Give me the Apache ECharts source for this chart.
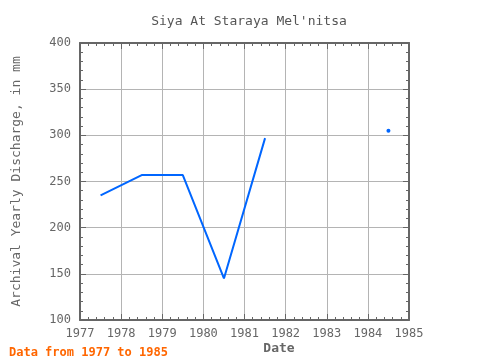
<!DOCTYPE html>
<html><head><meta charset="utf-8">
<script src="https://cdn.jsdelivr.net/npm/echarts@6/dist/echarts.min.js"></script>
<style>html,body{margin:0;padding:0;background:#fff}#c{width:480px;height:360px}</style>
</head><body><div id="c"></div>
<script>
const years = [1977.5, 1978.5, 1979.5, 1980.5, 1981.5, 1982.5, 1983.5, 1984.5];
const discharge = [235, 257, 257, 145, 297, null, null, 305];
const xTicks = [1977, 1978, 1979, 1980, 1981, 1982, 1983, 1984, 1985];
const yTicks = [100, 150, 200, 250, 300, 350, 400];
const titleText = "Siya At Staraya Mel'nitsa";
const yName = "Archival Yearly Discharge, in mm";
const xName = "Date";
const footer = "Data from 1977 to 1985";

const font = "'DejaVu Sans Mono', monospace";
const axisGray = '#666666';
const data = years.map((y, i) => {
  const prev = i > 0 ? discharge[i-1] : null;
  const next = i < discharge.length-1 ? discharge[i+1] : null;
  const isolated = discharge[i] != null && prev == null && next == null;
  return isolated ? {value:[y, discharge[i]], symbol:'circle', symbolSize:4} : {value:[y, discharge[i]], symbol:'none'};
});
const chart = echarts.init(document.getElementById('c'), null, {renderer:'canvas'});
const common = {
  axisLine:{show:true, lineStyle:{color:axisGray, width:2}},
  axisTick:{show:true, inside:true, length:6, lineStyle:{color:axisGray, width:1}},
  minorTick:{show:true, splitNumber:5, length:3, lineStyle:{color:axisGray, width:1}},
};
chart.setOption({
  animation:false,
  title:[
    {text:titleText, left:244, top:10, textAlign:'center', textStyle:{fontFamily:font, fontSize:13, fontWeight:'normal', color:'#555555'}},
    {text:footer, left:4, top:342, textStyle:{fontFamily:font, fontSize:12, fontWeight:'bold', color:'#ff6600'}},
    {text:xName, left:274, top:337, textAlign:'center', textStyle:{fontFamily:font, fontSize:13, fontWeight:'bold', color:axisGray}}
  ],
  grid:{left:80, right:71, top:43, bottom:40, outerBoundsMode:'none', containLabel:false},
  xAxis:[
    Object.assign({type:'value', min:xTicks[0], max:xTicks[xTicks.length-1], interval:1, position:'bottom',
      axisLabel:{fontFamily:font, fontSize:12, color:axisGray, margin:8, formatter:v => String(v)},
      splitLine:{show:true, lineStyle:{color:'#b4b4b4', width:1}}}, common),
    Object.assign({type:'value', min:xTicks[0], max:xTicks[xTicks.length-1], interval:1, position:'top',
      axisLabel:{show:false}, splitLine:{show:false}}, common)
  ],
  yAxis:[
    Object.assign({type:'value', min:yTicks[0], max:yTicks[yTicks.length-1], interval:50, position:'left',
      name:yName, nameLocation:'middle', nameGap:57,
      nameTextStyle:{fontFamily:font, fontSize:13, color:axisGray},
      axisLabel:{fontFamily:font, fontSize:12, color:axisGray, margin:9},
      splitLine:{show:true, lineStyle:{color:'#b4b4b4', width:1}}}, common),
    Object.assign({type:'value', min:yTicks[0], max:yTicks[yTicks.length-1], interval:50, position:'right',
      axisLabel:{show:false}, splitLine:{show:false}}, common)
  ],
  series:[{
    type:'line', data:data, connectNulls:false, showSymbol:true,
    lineStyle:{color:'#0066ff', width:2}, itemStyle:{color:'#0066ff'}
  }]
});
</script></body></html>
